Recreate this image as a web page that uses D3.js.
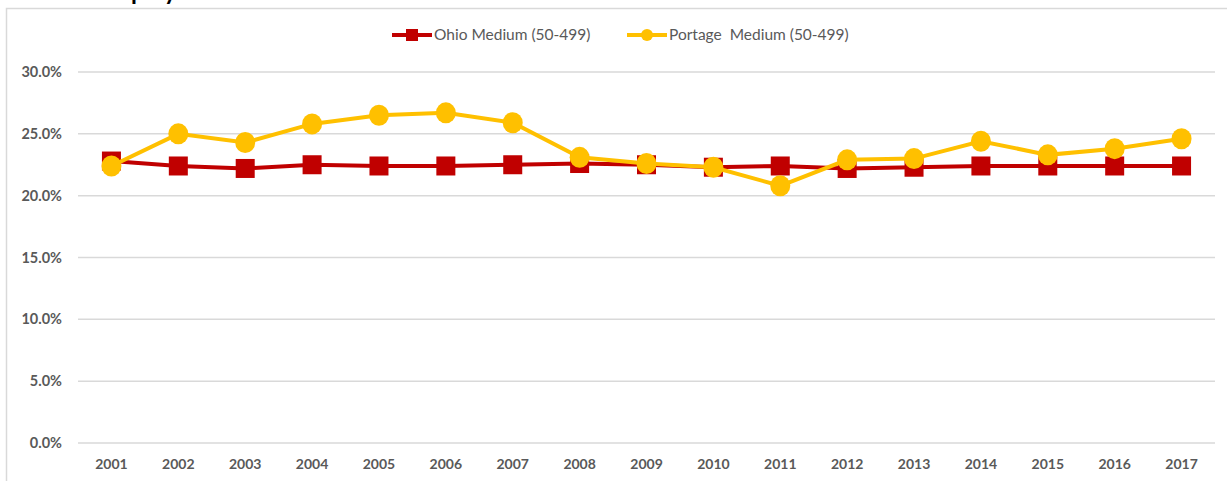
<!DOCTYPE html>
<html>
<head>
<meta charset="utf-8">
<script src="https://cdn.jsdelivr.net/npm/d3@7"></script>
<style>
body { margin: 0; background: #fff; }
svg { font-family: Lato, "Open Sans", sans-serif; }
</style>
</head>
<body>
<div id="chart"></div>
<script>
/* Data */
var years = ["2001","2002","2003","2004","2005","2006","2007","2008","2009","2010","2011","2012","2013","2014","2015","2016","2017"];
var ohio = [22.8, 22.4, 22.2, 22.5, 22.4, 22.4, 22.5, 22.6, 22.5, 22.3, 22.4, 22.2, 22.3, 22.4, 22.4, 22.4, 22.4];
var portage = [22.4, 25.0, 24.3, 25.8, 26.5, 26.7, 25.9, 23.1, 22.6, 22.3, 20.8, 22.9, 23.0, 24.4, 23.3, 23.8, 24.6];
var yTicks = [0, 5, 10, 15, 20, 25, 30];
var seriesNames = ["Ohio Medium (50-499)", "Portage  Medium (50-499)"];

var width = 1227,
    height = 481;
var margin = {left: 78, right: 12, top: 72, bottom: 38};

var svg = d3.select("#chart").append("svg")
	.attr("width", width)
	.attr("height", height);

// title, cut off at the top of the picture as in the original
svg.append("text")
	.attr("x", 4).attr("y", 0)
	.style("font-size", "24px").style("font-weight", "bold").style("fill", "#000")
	.text("Share of Employment in Medium Firms");

// chart frame
svg.append("rect")
	.attr("x", 6.5).attr("y", 8.5)
	.attr("width", width + 10).attr("height", height)
	.style("fill", "#fff").style("stroke", "#d9d9d9").style("stroke-width", 1.5);

var x = d3.scaleBand().domain(years)
	.range([margin.left, width - margin.right]);
var y = d3.scaleLinear().domain([0, 30])
	.range([height - margin.bottom, margin.top]);

var g = svg.append("g");

// gridlines
g.selectAll("line.grid")
	.data(yTicks)
	.enter().append("line")
	.attr("class", "grid")
	.attr("x1", margin.left).attr("x2", width - margin.right)
	.attr("y1", function(d) { return y(d); })
	.attr("y2", function(d) { return y(d); })
	.style("stroke", "#d9d9d9").style("stroke-width", 1.5);

// y axis labels
var yAxis = d3.axisLeft(y).tickValues(yTicks).tickSize(0).tickPadding(16)
	.tickFormat(function(d) { return d.toFixed(1) + "%"; });
g.append("g")
	.attr("transform", "translate(" + margin.left + ",0)")
	.call(yAxis)
	.call(function(a) { a.select(".domain").remove(); })
	.selectAll("text")
	.style("font-size", "14.5px").style("font-weight", "bold")
	.style("fill", "#595959").style("font-family", "Lato, sans-serif");

// x axis labels
var xAxis = d3.axisBottom(x).tickSize(0).tickPadding(16);
g.append("g")
	.attr("transform", "translate(0," + y(0) + ")")
	.call(xAxis)
	.call(function(a) { a.select(".domain").remove(); })
	.selectAll("text")
	.style("font-size", "14px").style("font-weight", "bold")
	.style("fill", "#595959").style("font-family", "Lato, sans-serif");

var line = d3.line()
	.x(function(d, i) { return x(years[i]) + x.bandwidth() / 2; })
	.y(function(d) { return y(d); });

/* ------- Ohio series ------- */
g.append("path")
	.datum(ohio)
	.attr("d", line)
	.style("fill", "none").style("stroke", "#C00000").style("stroke-width", 4);
g.selectAll("rect.ohio")
	.data(ohio)
	.enter().append("rect")
	.attr("class", "ohio")
	.attr("x", function(d, i) { return x(years[i]) + x.bandwidth() / 2 - 9.5; })
	.attr("y", function(d) { return y(d) - 9.5; })
	.attr("width", 19).attr("height", 19)
	.style("fill", "#C00000");

/* ------- Portage series ------- */
g.append("path")
	.datum(portage)
	.attr("d", line)
	.style("fill", "none").style("stroke", "#FFC000").style("stroke-width", 4);
g.selectAll("ellipse.portage")
	.data(portage)
	.enter().append("ellipse")
	.attr("class", "portage")
	.attr("cx", function(d, i) { return x(years[i]) + x.bandwidth() / 2; })
	.attr("cy", function(d) { return y(d); })
	.attr("rx", 10).attr("ry", 10.5)
	.style("fill", "#FFC000");

/* ------- Legend ------- */
var legend = svg.append("g").attr("transform", "translate(0,35)");
var legendItems = [
	{name: seriesNames[0], color: "#C00000", x: 392, shape: "rect"},
	{name: seriesNames[1], color: "#FFC000", x: 627, shape: "circle"}
];
legendItems.forEach(function(it) {
	legend.append("line")
		.attr("x1", it.x).attr("x2", it.x + 40)
		.attr("y1", 0).attr("y2", 0)
		.style("stroke", it.color).style("stroke-width", 4);
	if (it.shape == "rect") {
		legend.append("rect")
			.attr("x", it.x + 14).attr("y", -6)
			.attr("width", 12).attr("height", 12)
			.style("fill", it.color);
	} else {
		legend.append("circle")
			.attr("cx", it.x + 20).attr("cy", 0).attr("r", 6)
			.style("fill", it.color);
	}
	legend.append("text")
		.attr("x", it.x + 42).attr("y", 0).attr("dy", "0.35em")
		.style("font-size", "15.5px").style("fill", "#595959")
		.style("white-space", "pre")
		.text(it.name);
});
</script>
</body>
</html>
